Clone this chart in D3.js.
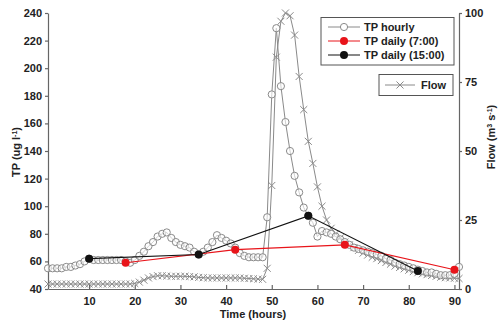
<!DOCTYPE html>
<html><head><meta charset="utf-8">
<script src="https://cdn.jsdelivr.net/npm/d3@7"></script>
<style>
body{margin:0;background:#fff;}
text{font-family:"Liberation Sans",Arial,sans-serif;font-weight:bold;}
</style></head>
<body><svg id="c" width="500" height="320"></svg>
<script>
// ---- data ----
const hours = d3.range(1, 92);
const tpHourly = [55,55,55,55,56,56,57,58,60,62,61,61,61,61,61,61,61,60,59,61,
  64,67,71,74,78,80,81,77,74,72,71,70,67,65,67,70,74,79,77,75,
  73,70,66,64,63,63,63,63,92,181,229,187,161,140,122,110,99,93,88,78,
  82,81,80,78,76,74,72,70,69,68,67,66,65,64,62,61,59,58,57,56,
  55,54,53,52,52,51,50,50,50,51,56];
const flowHourly = [1.8,1.8,1.8,1.8,1.8,1.8,1.8,1.8,1.8,1.8,1.8,1.8,1.8,1.8,1.8,1.8,1.8,1.8,1.8,2.0,
  2.5,3.2,4.0,4.5,4.8,4.8,4.7,4.6,4.6,4.6,4.6,4.5,4.4,4.2,4.1,4.0,4.0,4.0,4.0,4.0,
  4.0,4.0,4.0,3.9,3.8,3.7,3.6,3.5,7.5,37.5,84,97,100,99,92,77,65,53.5,45.5,37,
  30,25,22,20,18.5,17,16,15,14,13,12.3,11.5,11,10.3,9.6,9,8.3,7.8,7.3,6.8,
  6.3,5.9,5.5,5.2,4.9,4.6,4.3,4.1,4.0,3.9,3.8];
const daily7Hours = [18, 42, 66, 90];
const daily7Values = [59, 68.5, 72, 54];
const daily15Hours = [10, 34, 58, 82];
const daily15Values = [62, 65, 93, 53];
const xTicks = [10,20,30,40,50,60,70,80,90];
const tpTicks = [40,60,80,100,120,140,160,180,200,220,240];
const flowTicks = [0,25,50,75,100];

// ---- layout ----
const svg = d3.select("#c");
const L = 48, R = 459, T = 13, B = 289;
const x = d3.scaleLinear().domain([1, 91]).range([L, R]);
const yTP = d3.scaleLinear().domain([40, 240]).range([B, T]);
const yF = d3.scaleLinear().domain([0, 100]).range([B, T]);

const axisCol = "#666", txtCol = "#222";
const grey = "#8a8a8a";

// axes
const gx = svg.append("g").attr("transform", `translate(0,${B})`)
  .call(d3.axisBottom(x).tickValues(xTicks).tickSizeInner(-4).tickSizeOuter(0).tickPadding(8));
const gl = svg.append("g").attr("transform", `translate(${L},0)`)
  .call(d3.axisLeft(yTP).tickValues(tpTicks).tickSize(3).tickSizeOuter(0).tickPadding(3));
const gr = svg.append("g").attr("transform", `translate(${R},0)`)
  .call(d3.axisRight(yF).tickValues(flowTicks).tickSize(3).tickSizeOuter(0).tickPadding(3));
[gx, gl, gr].forEach(g => {
  g.selectAll("path,line").attr("stroke", axisCol).attr("stroke-width", 1.2);
  g.selectAll("text").attr("fill", txtCol).attr("font-size", 11)
    .attr("font-family", "'Liberation Sans',Arial,sans-serif").attr("font-weight", "bold");
});

// line generators
const lineTP = d3.line().x((d, i) => x(hours[i])).y(d => yTP(d));
const lineF = d3.line().x((d, i) => x(hours[i])).y(d => yF(d));

// Flow
svg.append("path").attr("d", lineF(flowHourly)).attr("fill", "none")
  .attr("stroke", grey).attr("stroke-width", 1);
const cross = d3.symbol().type(d3.symbolX).size(34);
svg.append("g").selectAll("path").data(flowHourly).join("path")
  .attr("d", cross).attr("transform", (d, i) => `translate(${x(hours[i])},${yF(d)})`)
  .attr("fill", "none").attr("stroke", grey).attr("stroke-width", 1);

// TP hourly
svg.append("path").attr("d", lineTP(tpHourly)).attr("fill", "none")
  .attr("stroke", grey).attr("stroke-width", 1);
svg.append("g").selectAll("circle").data(tpHourly).join("circle")
  .attr("cx", (d, i) => x(hours[i])).attr("cy", d => yTP(d)).attr("r", 3.6)
  .attr("fill", "white").attr("fill-opacity", 0.6).attr("stroke", grey).attr("stroke-width", 1);

// daily series
function daily(hs, vs, col) {
  const ln = d3.line().x((d, i) => x(hs[i])).y(d => yTP(d));
  svg.append("path").attr("d", ln(vs)).attr("fill", "none").attr("stroke", col).attr("stroke-width", 1.1);
  svg.append("g").selectAll("circle").data(vs).join("circle")
    .attr("cx", (d, i) => x(hs[i])).attr("cy", d => yTP(d)).attr("r", 4).attr("fill", col);
}
daily(daily7Hours, daily7Values, "#e8141a");
daily(daily15Hours, daily15Values, "#111");

// axis titles
const tl = svg.append("text").attr("transform", "translate(20,152) rotate(-90)")
  .attr("text-anchor", "middle").attr("font-size", 11).attr("fill", txtCol);
tl.append("tspan").text("TP (ug l");
tl.append("tspan").text("-1").attr("font-size", 7).attr("baseline-shift", "super");
tl.append("tspan").text(")");

const tr = svg.append("text").attr("transform", "translate(495,137) rotate(-90)")
  .attr("text-anchor", "middle").attr("font-size", 11).attr("fill", txtCol);
tr.append("tspan").text("Flow (m");
tr.append("tspan").text("3").attr("font-size", 7).attr("baseline-shift", "super");
tr.append("tspan").text(" s");
tr.append("tspan").text("-1").attr("font-size", 7).attr("baseline-shift", "super");
tr.append("tspan").text(")");

svg.append("text").attr("x", 253).attr("y", 318).attr("text-anchor", "middle")
  .attr("font-size", 11).attr("fill", txtCol).text("Time (hours)");

// legends
const leg1 = svg.append("g");
leg1.append("rect").attr("x", 321).attr("y", 17.5).attr("width", 133).attr("height", 47.5)
  .attr("fill", "white").attr("stroke", "#555").attr("stroke-width", 1);
const legItems = [
  {label: "TP hourly", col: grey, type: "open", y: 27},
  {label: "TP daily (7:00)", col: "#e8141a", type: "dot", y: 41},
  {label: "TP daily (15:00)", col: "#111", type: "dot", y: 55}
];
legItems.forEach(it => {
  leg1.append("line").attr("x1", 328).attr("x2", 360).attr("y1", it.y).attr("y2", it.y)
    .attr("stroke", it.col).attr("stroke-width", 1);
  if (it.type === "open") {
    leg1.append("circle").attr("cx", 344).attr("cy", it.y).attr("r", 3.6)
      .attr("fill", "white").attr("stroke", it.col);
  } else {
    leg1.append("circle").attr("cx", 344).attr("cy", it.y).attr("r", 4).attr("fill", it.col);
  }
  leg1.append("text").attr("x", 364).attr("y", it.y + 4).attr("font-size", 11)
    .attr("fill", txtCol).text(it.label);
});
const leg2 = svg.append("g");
leg2.append("rect").attr("x", 379).attr("y", 74.5).attr("width", 74).attr("height", 21)
  .attr("fill", "white").attr("stroke", "#555").attr("stroke-width", 1);
leg2.append("line").attr("x1", 385).attr("x2", 415).attr("y1", 85).attr("y2", 85)
  .attr("stroke", grey).attr("stroke-width", 1);
leg2.append("path").attr("d", cross).attr("transform", "translate(400,85)")
  .attr("fill", "none").attr("stroke", grey);
leg2.append("text").attr("x", 421).attr("y", 89).attr("font-size", 11)
  .attr("fill", txtCol).text("Flow");
</script></body></html>
